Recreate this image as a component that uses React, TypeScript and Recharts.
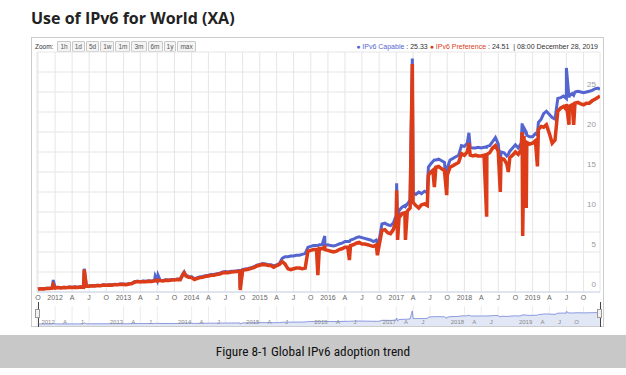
import React from 'react';
import { LineChart, Line, XAxis, YAxis, CartesianGrid, AreaChart, Area } from 'recharts';

// sample dates: 1st and 16th of every month, Oct 2011 - Dec 2019
const sampleDates: number[] = [];
for (let y = 2011; y <= 2019; y++) {
    for (let m = y === 2011 ? 9 : 0; m < 12; m++) {
        sampleDates.push(Date.UTC(y, m, 1), Date.UTC(y, m, 16));
    }
}

const capable = [
    // 2011 Oct-Dec
    0.38, 0.45, 0.42, 0.48, 0.46, 0.52,
    // 2012
    0.55, 0.6, 0.53, 0.58, 0.55, 0.62, 0.58, 0.64, 0.6, 0.66, 0.62, 0.78,
    0.75, 0.82, 0.78, 0.85, 0.82, 0.9, 0.86, 0.92, 0.9, 0.96, 0.94, 1.0,
    // 2013
    1.0, 0.96, 1.05, 1.1, 1.28, 1.35, 1.3, 1.38, 1.34, 1.4, 1.38, 1.45,
    1.42, 1.48, 1.45, 1.52, 1.5, 1.56, 1.55, 1.62, 1.6, 2.3, 2.1, 1.95,
    // 2014
    1.9, 1.65, 1.8, 1.9, 1.95, 2.05, 2.1, 2.2, 2.2, 2.3, 2.35, 2.5,
    2.55, 2.5, 2.6, 2.62, 2.65, 2.7, 2.8, 2.88, 2.95, 3.05, 3.15, 3.35,
    // 2015
    3.45, 3.55, 3.5, 3.42, 3.4, 3.25, 3.4, 3.55, 4.2, 4.4, 4.4, 4.5,
    4.5, 4.6, 4.6, 4.7, 4.8, 5.6, 5.7, 5.8, 5.8, 5.9, 5.9, 5.85,
    // 2016
    5.9, 5.8, 5.75, 5.85, 6.0, 6.1, 6.3, 6.3, 6.5, 6.6, 6.8, 6.9,
    6.8, 6.7, 6.6, 6.5, 6.3, 6.5, 6.4, 8.5, 8.6, 8.4, 8.3, 8.6,
    // 2017
    9.6, 10.2, 10.6, 10.8, 11.0, 11.5, 12.4, 12.2, 12.5, 12.3, 12.6, 12.4,
    15.9, 16.3, 16.5, 16.6, 16.4, 16.2, 15.5, 16.5, 16.7, 16.9, 17.1, 18.3,
    // 2018
    18.2, 18.6, 18.1, 18.0, 18.0, 18.1, 18.0, 18.1, 18.2, 18.3, 18.8, 19.3,
    18.5, 17.5, 17.4, 17.0, 17.6, 18.0, 18.4, 18.0, 18.6, 20.5, 19.6, 19.4,
    // 2019
    19.4, 19.8, 21.2, 21.6, 22.3, 22.6, 22.2, 21.8, 21.6, 24.2, 24.3, 24.5,
    24.2, 24.5, 24.8, 25.0, 25.1, 25.0, 24.9, 25.0, 25.1, 25.2, 25.4, 25.5,
];

const preference = [
    // 2011 Oct-Dec
    0.34, 0.41, 0.39, 0.44, 0.43, 0.48,
    // 2012
    0.5, 0.56, 0.5, 0.55, 0.52, 0.58, 0.55, 0.6, 0.57, 0.62, 0.58, 0.74,
    0.72, 0.78, 0.75, 0.82, 0.79, 0.86, 0.83, 0.88, 0.86, 0.92, 0.9, 0.96,
    // 2013
    0.95, 0.92, 1.0, 1.05, 1.22, 1.3, 1.25, 1.32, 1.28, 1.34, 1.32, 1.38,
    1.36, 1.42, 1.39, 1.46, 1.44, 1.5, 1.5, 1.56, 1.55, 2.2, 2.0, 1.85,
    // 2014
    1.8, 1.55, 1.7, 1.8, 1.85, 1.95, 2.0, 2.1, 2.1, 2.2, 2.25, 2.4,
    2.45, 2.4, 2.5, 2.52, 2.55, 2.6, 2.7, 2.78, 2.85, 2.95, 3.05, 3.25,
    // 2015
    3.35, 3.45, 3.4, 3.3, 3.3, 3.1, 3.3, 3.45, 3.8, 3.5, 2.9, 2.8,
    2.9, 3.0, 3.0, 2.9, 3.0, 5.1, 5.2, 5.3, 5.3, 5.45, 5.4, 5.3,
    // 2016
    5.2, 5.1, 5.0, 5.1, 5.3, 5.4, 5.6, 5.6, 5.8, 5.9, 6.1, 6.2,
    6.0, 6.0, 5.9, 5.8, 5.7, 5.9, 5.8, 7.7, 7.8, 7.4, 7.3, 7.8,
    // 2017
    9.0, 9.3, 9.8, 9.9, 10.1, 10.5, 11.2, 10.8, 10.5, 10.9, 11.0, 10.8,
    14.9, 15.2, 15.6, 15.7, 15.4, 15.2, 14.6, 15.6, 15.8, 16.0, 16.2, 17.3,
    // 2018
    17.1, 17.5, 17.1, 17.0, 17.1, 17.0, 17.0, 17.1, 17.2, 17.4, 18.0, 18.3,
    17.6, 16.7, 16.6, 16.0, 16.8, 17.1, 17.5, 17.2, 17.8, 19.5, 18.7, 18.5,
    // 2019
    18.6, 18.9, 20.3, 20.7, 20.6, 20.9, 19.8, 18.6, 19.0, 22.6, 23.0, 23.2,
    22.8, 23.2, 23.4, 23.6, 23.7, 23.5, 23.4, 23.6, 23.6, 23.9, 24.1, 24.3,
];

// single-day spikes and dips
const eventDates = [
    '2011-12-22', '2012-06-05', '2013-06-20', '2013-07-05', '2013-11-22', '2014-09-18',
    '2015-11-08', '2015-12-15', '2016-04-25', '2016-09-22', '2017-01-03', '2017-01-08',
    '2017-02-19', '2017-03-28', '2017-06-22', '2017-07-24', '2017-09-28', '2018-01-25',
    '2018-04-30', '2018-07-12', '2018-08-24', '2018-11-06', '2018-11-09', '2018-11-28',
    '2019-01-27', '2019-07-01', '2019-07-15', '2019-08-09', '2019-12-28',
];
const eventCapable = [
    1.5, 2.9, 2.0, 2.1, 2.5, 0.5,
    5.8, 7.0, 6.3, 6.2, 13.6, 7.2,
    10.7, 29.2, 15.6, 16.5, 13.0, 19.9,
    18.1, 16.0, 17.2, 21.1, 19.5, 20.0,
    19.6, 28.0, 24.3, 24.6, 25.33,
];
const eventPreference = [
    0.9, 2.8, 1.45, 1.5, 2.4, 0.25,
    2.1, 5.6, 4.0, 4.6, 12.7, 6.5,
    6.5, 28.5, 14.6, 13.1, 12.1, 18.6,
    9.4, 12.5, 15.0, 20.0, 7.0, 10.5,
    15.7, 23.5, 20.9, 20.9, 24.51,
];

const rows = [
    ...sampleDates.map((t, i) => ({ t, capable: capable[i], preference: preference[i] })),
    ...eventDates.map((d, i) => ({ t: Date.parse(d), capable: eventCapable[i], preference: eventPreference[i] })),
].sort((a, b) => a.t - b.t);

const domainX = [Date.UTC(2011, 8, 26), Date.UTC(2019, 11, 28)];

const quarterTicks: number[] = [];
for (let y = 2011; y <= 2019; y++) {
    [0, 3, 6, 9].forEach((m) => {
        const t = Date.UTC(y, m, 1);
        if (t >= domainX[0] && t <= domainX[1]) quarterTicks.push(t);
    });
}
const navTicks = quarterTicks.filter((t, i) => new Date(t).getUTCMonth() !== 9 || i === quarterTicks.length - 1);
const yTicks = [0, 2.5, 5, 7.5, 10, 12.5, 15, 17.5, 20, 22.5, 25, 27.5];
const zoomButtons = ['1h', '1d', '5d', '1w', '1m', '3m', '6m', '1y', 'max'];

const BLUE = '#5465cf';
const RED = '#dc3c18';

const quarterLabel = (t: number) => {
    const d = new Date(t);
    const m = d.getUTCMonth();
    if (m === 0) return String(d.getUTCFullYear());
    return m === 3 ? 'A' : m === 6 ? 'J' : 'O';
};

const XTick = (props: any) => (
    <text x={props.x} y={props.y} textAnchor="middle" fontSize={7} fill="#666"
          fontFamily="'Liberation Sans', Arial, sans-serif">
        {quarterLabel(props.payload.value)}
    </text>
);

const YTick = (props: any) => {
    const v = props.payload.value;
    if (v % 5 !== 0) return <g/>;
    return (
        <text x={props.x} y={props.y - 5} textAnchor="end" fontSize={8} fill="#999"
              fontFamily="'Liberation Sans', Arial, sans-serif">
            {v}
        </text>
    );
};

const NavTick = (props: any) => (
    <text x={props.x - 7} y={24} textAnchor="middle" fontSize={6} fill="#888"
          fontFamily="'Liberation Sans', Arial, sans-serif">
        {quarterLabel(props.payload.value)}
    </text>
);

const Handle = ({ left }: { left: number }) => (
    <>
        <div style={{ position: 'absolute', left, top: 302, width: 1, height: 25, background: '#444' }}/>
        <div style={{
            position: 'absolute', left: left - 3, top: 309, width: 5, height: 9,
            background: '#f2f2f2', border: '1px solid #999', boxSizing: 'border-box',
        }}/>
    </>
);

const App: React.FC = () => {
    return (
        <div style={{
            position: 'absolute', left: 0, top: 0, width: 626, height: 375, background: '#fff',
            fontFamily: "'Liberation Sans', Arial, sans-serif", overflow: 'hidden',
        }}>
            <div style={{
                position: 'absolute', left: 31, top: 10, fontFamily: "'Open Sans', sans-serif",
                fontWeight: 700, fontSize: 16, lineHeight: '16px', color: '#222', whiteSpace: 'nowrap',
            }}>
                Use of IPv6 for World (XA)
            </div>

            <div style={{
                position: 'absolute', left: 31, top: 37, width: 573, height: 290,
                border: '1px solid #cccccc', boxSizing: 'border-box',
            }}/>

            <div style={{
                position: 'absolute', left: 35, top: 41, display: 'flex', alignItems: 'center',
                gap: 1, fontSize: 6.5, color: '#333',
            }}>
                <span style={{ marginRight: 3 }}>Zoom:</span>
                {zoomButtons.map((b) => (
                    <span key={b} style={{
                        border: '1px solid #c8c8c8', background: '#f4f4f4', padding: '0 2px',
                        height: 9, lineHeight: '9px', borderRadius: 1, color: '#555',
                    }}>{b}</span>
                ))}
            </div>

            <div style={{
                position: 'absolute', right: 28, top: 42, fontSize: 7, lineHeight: '9px',
                color: '#333', whiteSpace: 'nowrap',
            }}>
                <span style={{ color: BLUE }}>● IPv6 Capable</span> : 25.33{' '}
                <span style={{ color: RED }}>● IPv6 Preference</span> : 24.51 &nbsp;| 08:00 December 28, 2019
            </div>

            <div style={{ position: 'absolute', left: 0, top: 0 }}>
                <LineChart width={626} height={310} data={rows}
                           margin={{ top: 52, right: 26, bottom: 0, left: 37 }}>
                    <CartesianGrid stroke="#e6e6e6"/>
                    <XAxis dataKey="t" type="number" domain={domainX} allowDataOverflow ticks={quarterTicks}
                           interval={0} height={18} tickLine={false} axisLine={{ stroke: '#ccd6eb' }}
                           tick={XTick}/>
                    <YAxis orientation="right" mirror domain={[0, 30]} ticks={yTicks} interval={0}
                           axisLine={false} tickLine={false} tickSize={2} tick={YTick}/>
                    <Line type="linear" dataKey="capable" stroke={BLUE} strokeWidth={3} dot={false}
                          isAnimationActive={false}/>
                    <Line type="linear" dataKey="preference" stroke={RED} strokeWidth={3.5} dot={false}
                          isAnimationActive={false}/>
                </LineChart>
            </div>

            <div style={{ position: 'absolute', left: 0, top: 300 }}>
                <AreaChart width={626} height={27} data={rows}
                           margin={{ top: 6, right: 26, bottom: 0, left: 37 }}>
                    <CartesianGrid stroke="#ececec" horizontal={false}/>
                    <YAxis hide domain={[-4, 40]}/>
                    <Area type="linear" dataKey="capable" stroke="#6f82d8" strokeWidth={0.8}
                          fill="#e2e7f6" fillOpacity={1} baseValue="dataMin" dot={false}
                          isAnimationActive={false}/>
                    <XAxis dataKey="t" type="number" domain={domainX} allowDataOverflow ticks={navTicks}
                           interval={0} height={1} tickSize={0} tickLine={false} axisLine={false}
                           tick={NavTick}/>
                </AreaChart>
            </div>

            <Handle left={38}/>
            <Handle left={600}/>

            <div style={{
                position: 'absolute', left: 0, top: 335, width: 626, height: 33, background: '#c8c8c8',
                textAlign: 'center', lineHeight: '33px', fontSize: 13.3, color: '#111',
                fontFamily: "'Liberation Sans Narrow', 'Roboto Condensed', Roboto, sans-serif",
            }}>
                Figure 8-1 Global IPv6 adoption trend
            </div>
        </div>
    );
};

export default App;
